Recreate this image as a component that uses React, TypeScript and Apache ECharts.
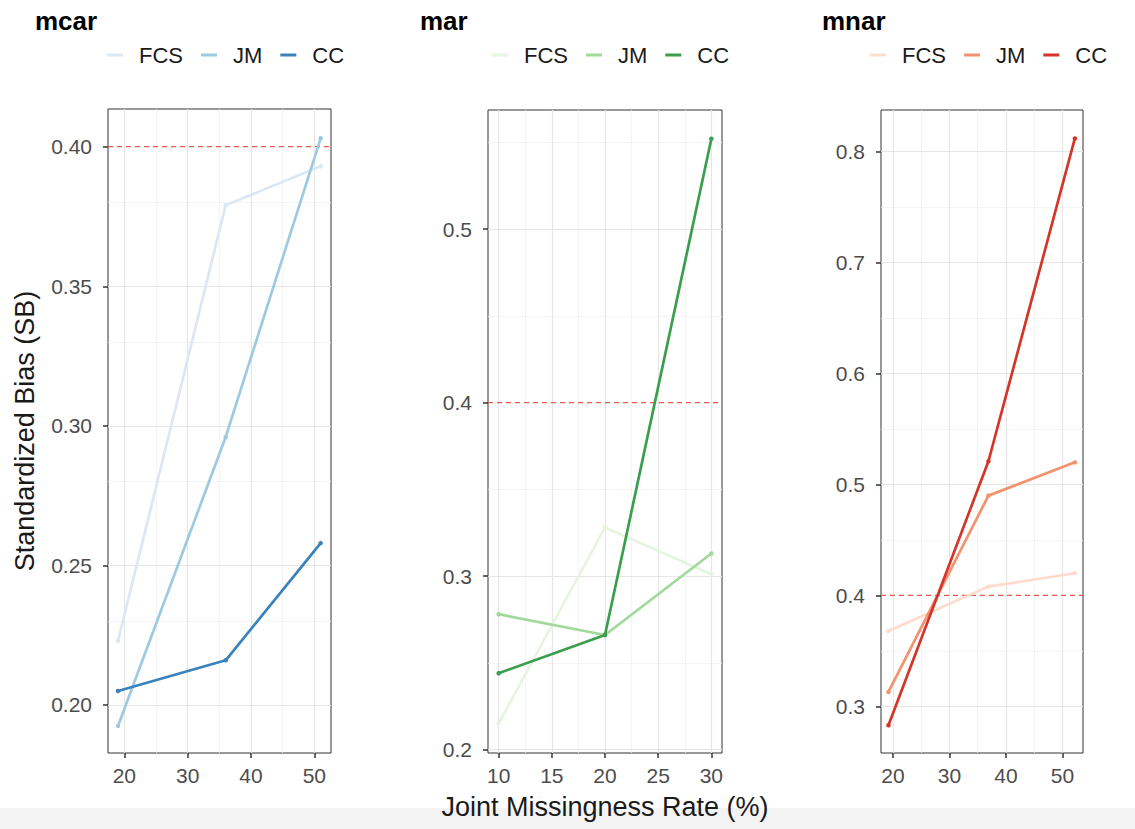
import React, { useEffect, useRef } from "react";
import * as echarts from "echarts";

// ---- data ----
const panels = ["mcar", "mar", "mnar"];
const methods = ["FCS", "JM", "CC"];

const mcarX = [19, 36, 51];
const mcarFCS = [0.223, 0.379, 0.393];
const mcarJM = [0.1925, 0.296, 0.403];
const mcarCC = [0.205, 0.216, 0.258];

const marX = [10, 20, 30];
const marFCS = [0.215, 0.328, 0.301];
const marJM = [0.278, 0.266, 0.313];
const marCC = [0.244, 0.266, 0.552];

const mnarX = [19.2, 36.9, 52.2];
const mnarFCS = [0.368, 0.408, 0.42];
const mnarJM = [0.313, 0.49, 0.52];
const mnarCC = [0.283, 0.521, 0.812];

const mcarXTicks = [20, 30, 40, 50];
const mcarXMinor = [25, 35, 45];
const mcarYTicks = [0.2, 0.25, 0.3, 0.35, 0.4];
const mcarYMinor = [0.225, 0.275, 0.325, 0.375];

const marXTicks = [10, 15, 20, 25, 30];
const marXMinor = [12.5, 17.5, 22.5, 27.5];
const marYTicks = [0.2, 0.3, 0.4, 0.5];
const marYMinor = [0.25, 0.35, 0.45, 0.55];

const mnarXTicks = [20, 30, 40, 50];
const mnarXMinor = [25, 35, 45];
const mnarYTicks = [0.3, 0.4, 0.5, 0.6, 0.7, 0.8];
const mnarYMinor = [0.35, 0.45, 0.55, 0.65, 0.75];

const threshold = 0.4;

const xTitle = "Joint Missingness Rate (%)";
const yTitle = "Standardized Bias (SB)";

// ---- config ----
const FONT = "'Liberation Sans', Arial, Helvetica, sans-serif";

const palette: Record<string, string[]> = {
  mcar: ["#dbe8f4", "#9ecae1", "#3a82be"],
  mar: ["#e5f5e0", "#a1d99b", "#3a9e4f"],
  mnar: ["#fddccd", "#f4926f", "#d4352b"],
};

const panelData: Record<string, { x: number[]; ys: number[][]; xTicks: number[]; xMinor: number[]; yTicks: number[]; yMinor: number[]; xRange: number[]; yRange: number[]; dec: number; grid: number[]; legendLeft: number; titleLeft: number }> = {
  mcar: {
    x: mcarX, ys: [mcarFCS, mcarJM, mcarCC], xTicks: mcarXTicks, xMinor: mcarXMinor,
    yTicks: mcarYTicks, yMinor: mcarYMinor, xRange: [17.42, 52.63], yRange: [0.1828, 0.4135], dec: 2,
    grid: [108, 109, 223, 644], legendLeft: 107, titleLeft: 35,
  },
  mar: {
    x: marX, ys: [marFCS, marJM, marCC], xTicks: marXTicks, xMinor: marXMinor,
    yTicks: marYTicks, yMinor: marYMinor, xRange: [9, 31], yRange: [0.198, 0.5686], dec: 1,
    grid: [488, 110, 234, 643], legendLeft: 492, titleLeft: 420,
  },
  mnar: {
    x: mnarX, ys: [mnarFCS, mnarJM, mnarCC], xTicks: mnarXTicks, xMinor: mnarXMinor,
    yTicks: mnarYTicks, yMinor: mnarYMinor, xRange: [17.88, 53.64], yRange: [0.258, 0.8376], dec: 1,
    grid: [881, 110, 202, 643], legendLeft: 870, titleLeft: 822,
  },
};

function buildOption() {
  const grid: any[] = [];
  const xAxis: any[] = [];
  const yAxis: any[] = [];
  const series: any[] = [];
  const legend: any[] = [];
  const graphic: any[] = [];

  graphic.push({
    type: "rect",
    z: -10,
    shape: { x: 0, y: 808, width: 1135, height: 21 },
    style: { fill: "#f3f3f3" },
    silent: true,
  });

  panels.forEach((p, i) => {
    const d = panelData[p];
    grid.push({
      left: d.grid[0], top: d.grid[1], width: d.grid[2], height: d.grid[3],
      show: true, borderColor: "#333333", borderWidth: 1, backgroundColor: "transparent",
      containLabel: false,
    });
    xAxis.push({
      type: "value", gridIndex: i, min: d.xRange[0], max: d.xRange[1],
      axisLine: { show: false },
      splitLine: { show: false },
      axisTick: { show: true, customValues: d.xTicks, length: 5, lineStyle: { color: "#333333", width: 1.5 } },
      axisLabel: { customValues: d.xTicks, fontSize: 21, color: "#4d4d4d", margin: 12, fontFamily: FONT },
    });
    yAxis.push({
      type: "value", gridIndex: i, min: d.yRange[0], max: d.yRange[1],
      axisLine: { show: false },
      splitLine: { show: false },
      axisTick: { show: true, customValues: d.yTicks, length: 5, lineStyle: { color: "#333333", width: 1.5 } },
      axisLabel: {
        customValues: d.yTicks, fontSize: 21, color: "#4d4d4d", margin: 16, fontFamily: FONT,
        formatter: (v: number) => v.toFixed(d.dec),
      },
    });

    const gridLines: any[] = [];
    d.xMinor.forEach((v) => gridLines.push({ xAxis: v, lineStyle: { color: "#f1f1f1", width: 0.8, type: "solid" } }));
    d.yMinor.forEach((v) => gridLines.push({ yAxis: v, lineStyle: { color: "#f1f1f1", width: 0.8, type: "solid" } }));
    d.xTicks.forEach((v) => gridLines.push({ xAxis: v, lineStyle: { color: "#e6e6e6", width: 1.2, type: "solid" } }));
    d.yTicks
      .filter((v) => Math.abs(v - threshold) > 1e-9)
      .forEach((v) => gridLines.push({ yAxis: v, lineStyle: { color: "#e6e6e6", width: 1.2, type: "solid" } }));

    series.push({
      type: "line",
      name: p + "-grid",
      xAxisIndex: i, yAxisIndex: i,
      data: [[d.x[0], d.ys[0][0]]],
      symbol: "none",
      lineStyle: { width: 0, opacity: 0 },
      silent: true,
      z: 0,
      markLine: {
        silent: true, symbol: "none", z: 0, animation: false,
        label: { show: false },
        emphasis: { disabled: true },
        data: gridLines,
      },
    });

    // dashed reference line at the threshold, spanning the panel's x range
    series.push({
      type: "line",
      name: p + "-threshold",
      xAxisIndex: i, yAxisIndex: i,
      data: [[d.xRange[0], threshold], [d.xRange[1], threshold]],
      symbol: "none",
      color: "#e25a50",
      lineStyle: { color: "#e25a50", width: 1.3, type: [5, 4] },
      silent: true,
      z: 2,
      emphasis: { disabled: true },
    });

    methods.forEach((m, j) => {
      series.push({
        type: "line",
        name: p + "-" + m,
        xAxisIndex: i, yAxisIndex: i,
        data: d.x.map((x, k) => [x, d.ys[j][k]]),
        color: palette[p][j],
        lineStyle: { width: 2.7, color: palette[p][j] },
        itemStyle: { color: palette[p][j] },
        symbol: "circle",
        symbolSize: 4.5,
        showSymbol: true,
        z: 3 + j,
        emphasis: { disabled: true },
      });
    });

    legend.push({
      left: d.legendLeft, top: 44, padding: 0,
      data: methods.map((m) => p + "-" + m),
      formatter: (n: string) => n.split("-")[1],
      icon: "rect",
      itemWidth: 16, itemHeight: 3, itemGap: 18,
      selectedMode: false,
      textStyle: { fontSize: 22, color: "#1a1a1a", fontFamily: FONT, padding: [0, 0, 0, 11] },
    });

    graphic.push({
      type: "text",
      left: d.titleLeft, top: 8,
      style: { text: p, fontSize: 26, fontWeight: "bold", fill: "#000000", font: "bold 26px " + FONT },
    });
  });

  graphic.push({
    type: "text",
    x: 605, y: 807,
    style: { text: xTitle, fill: "#1a1a1a", font: "27px " + FONT, textAlign: "center", textVerticalAlign: "middle" },
  });
  graphic.push({
    type: "text",
    x: 25, y: 431,
    rotation: Math.PI / 2,
    style: { text: yTitle, fill: "#1a1a1a", font: "27px " + FONT, textAlign: "center", textVerticalAlign: "middle" },
  });

  return {
    animation: false,
    backgroundColor: "#ffffff",
    textStyle: { fontFamily: FONT },
    grid, xAxis, yAxis, series, legend, graphic,
  };
}

export default function App() {
  const ref = useRef<HTMLDivElement>(null);
  useEffect(() => {
    if (!ref.current) return;
    const chart = echarts.init(ref.current, undefined, { renderer: "svg" });
    chart.setOption(buildOption() as any);
    return () => chart.dispose();
  }, []);
  return <div ref={ref} style={{ position: "absolute", left: 0, top: 0, width: 1135, height: 829 }} />;
}
